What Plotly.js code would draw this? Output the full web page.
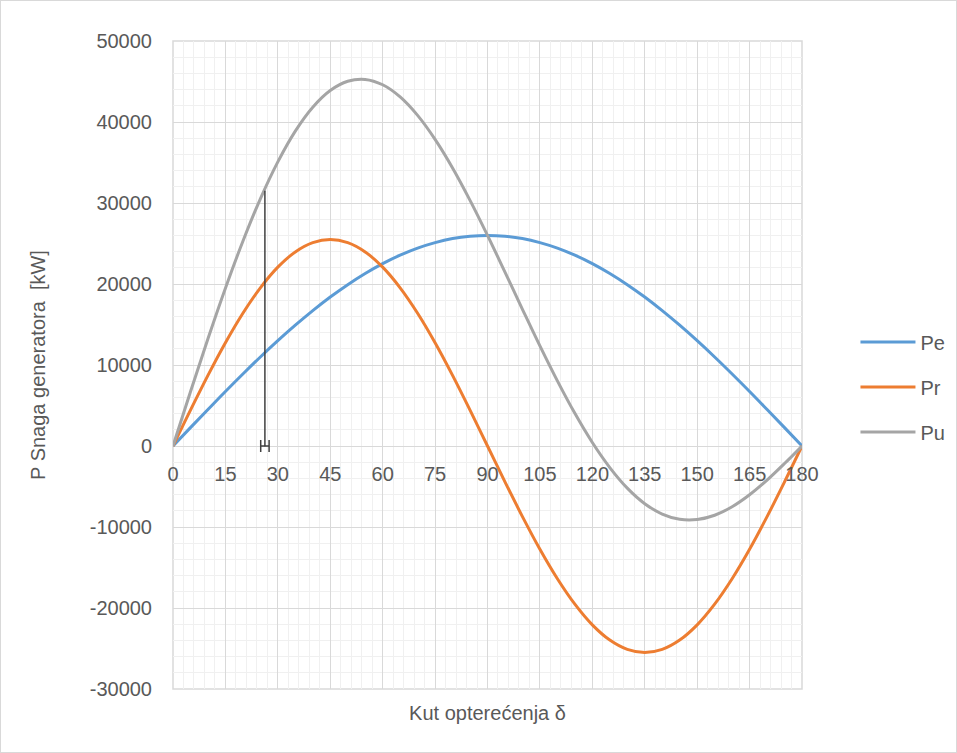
<!DOCTYPE html>
<html>
<head>
<meta charset="utf-8">
<script src="https://cdn.plot.ly/plotly-3.0.1.min.js"></script>
<style>
html,body{margin:0;padding:0;background:#fff;}
#wrap{position:relative;width:957px;height:753px;}
#chart{width:957px;height:753px;}
#frame{position:absolute;left:0;top:0;width:955px;height:751px;border:1px solid #d9d9d9;pointer-events:none;}
</style>
</head>
<body>
<div id="wrap"><div id="chart"></div><div id="frame"></div></div>
<script>
// Load angle δ (degrees)
const angles = [0,5,10,15,20,25,30,35,40,45,50,55,60,65,70,75,80,85,90,95,100,105,110,115,120,125,130,135,140,145,150,155,160,165,170,175,180];
// Pe (kW)
const pe = [0,2270,4510,6730,8890,10990,13000,14910,16710,18390,19920,21300,22520,23560,24430,25110,25610,25900,26000,25900,25610,25110,24430,23560,22520,21300,19920,18390,16710,14910,13000,10990,8890,6730,4510,2270,0];
// Pr (kW)
const pr = [0,4430,8720,12750,16390,19530,22080,23960,25110,25500,25110,23960,22080,19530,16390,12750,8720,4430,0,-4430,-8720,-12750,-16390,-19530,-22080,-23960,-25110,-25500,-25110,-23960,-22080,-19530,-16390,-12750,-8720,-4430,0];
// Pu (kW)
const pu = [0,6700,13240,19480,25280,30520,35080,38880,41830,43890,45030,45260,44600,43100,40820,37860,34330,30330,26000,21470,16880,12360,8040,4030,430,-2660,-5200,-7120,-8400,-9050,-9080,-8550,-7500,-6020,-4210,-2160,0];
// marker line at the operating angle
const markAngle = [26.3, 26.3];
const markValue = [0, 31500];
const markErr = [1.2];

const xTicks = [0,15,30,45,60,75,90,105,120,135,150,165,180];
const yTicks = [-30000,-20000,-10000,0,10000,20000,30000,40000,50000];

const font = 'Liberation Sans, Arial, sans-serif';
const txt = '#595959';

const traces = [
  {x: angles, y: pe, name: 'Pe', mode: 'lines', line: {color: '#5b9bd5', width: 3, shape: 'spline'}, legendgroup: 'a'},
  {x: angles, y: pr, name: 'Pr', mode: 'lines', line: {color: '#ed7d31', width: 3, shape: 'spline'}, legendgroup: 'b'},
  {x: angles, y: pu, name: 'Pu', mode: 'lines', line: {color: '#a5a5a5', width: 3, shape: 'spline'}, legendgroup: 'c'},
  {x: markAngle, y: markValue, mode: 'lines', line: {color: '#404040', width: 1.5}, showlegend: false, hoverinfo: 'skip'},
  {x: [markAngle[0]], y: [markValue[0]], xaxis: 'x2', mode: 'markers', marker: {size: 1, color: '#404040'}, showlegend: false, hoverinfo: 'skip',
   error_x: {type: 'data', array: markErr, visible: true, color: '#404040', thickness: 1.5, width: 6}}
];

const layout = {
  width: 957, height: 753,
  margin: {l: 173, r: 155, t: 41, b: 64, autoexpand: false},
  paper_bgcolor: '#fff', plot_bgcolor: '#fff',
  font: {family: font, color: txt, size: 20},
  showlegend: true,
  legend: {x: 1.085, xanchor: 'left', y: 0.466, yanchor: 'middle', traceorder: 'grouped', tracegroupgap: 16,
           itemwidth: 55, font: {family: font, size: 20, color: txt}, bgcolor: 'rgba(0,0,0,0)'},
  xaxis: {
    range: [0, 180], tickmode: 'array', tickvals: xTicks, showticklabels: false,
    showline: false, zeroline: false,
    showgrid: true, gridcolor: '#d9d9d9', gridwidth: 1,
    minor: {dtick: 3, showgrid: true, gridcolor: '#f0f0f0', gridwidth: 1},
    ticks: '',
    title: {text: 'Kut opterećenja δ', font: {family: font, size: 20, color: txt}, standoff: 16}
  },
  xaxis2: {
    overlaying: 'x', matches: 'x', range: [0, 180], anchor: 'free', position: 0.375,
    tickmode: 'array', tickvals: xTicks, ticktext: xTicks.map(String),
    showgrid: false, showline: false, zeroline: false, ticks: '', ticklabelstandoff: 14,
    tickfont: {family: font, size: 20, color: txt}
  },
  yaxis: {
    range: [-30000, 50000], tickmode: 'array', tickvals: yTicks, ticktext: yTicks.map(String),
    showline: false, zeroline: false,
    showgrid: true, gridcolor: '#d9d9d9', gridwidth: 1,
    minor: {dtick: 2000, showgrid: true, gridcolor: '#f0f0f0', gridwidth: 1},
    tickfont: {family: font, size: 20, color: txt}, ticks: '', ticklabelstandoff: 20,
    title: {text: 'P Snaga generatora  [kW]', font: {family: font, size: 20, color: txt}, standoff: 38}
  },
  shapes: [
    {type: 'rect', xref: 'paper', yref: 'paper', x0: 0, x1: 1, y0: 0, y1: 1, line: {color: '#d9d9d9', width: 1.5}, layer: 'below'}
  ]
};

Plotly.newPlot('chart', traces, layout, {displayModeBar: false, staticPlot: true});
</script>
</body>
</html>
